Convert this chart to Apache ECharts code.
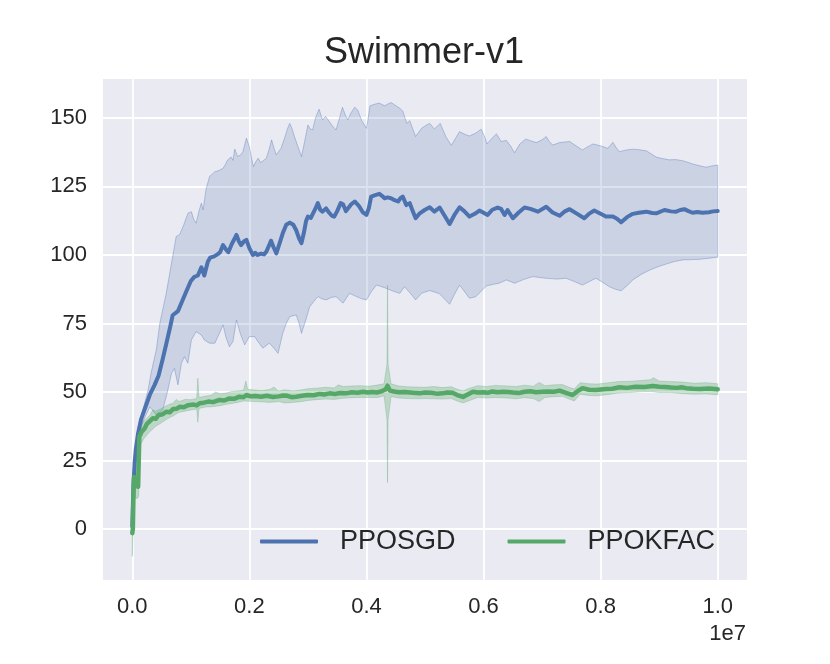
<!DOCTYPE html>
<html>
<head>
<meta charset="utf-8">
<title>Swimmer-v1</title>
<script src="https://cdn.jsdelivr.net/npm/echarts@6/dist/echarts.min.js"></script>
<style>
    html, body {margin: 0; padding: 0; background: #fff;}
    #chart {width: 830px; height: 664px;}
</style>
</head>
<body>
<div id="chart"></div>
<script>
// timesteps in millions, returns
const xTicks = [0, 2, 4, 6, 8, 10];
const yTicks = [0, 25, 50, 75, 100, 125, 150];

const ppoSgdMean = [[0,1],[0.02,16],[0.04,24],[0.06,29],[0.1,35],[0.15,40],[0.2,43],[0.3,49],[0.38,52.5],[0.45,56],[0.52,62],[0.58,67.5],[0.65,74],[0.69,78],[0.78,79.5],[0.85,83],[0.92,86.6],[1.0,90.5],[1.06,92],[1.12,92.5],[1.18,95.5],[1.23,92.5],[1.29,97.5],[1.33,99],[1.4,99.5],[1.46,100.3],[1.5,101],[1.55,103.6],[1.6,102],[1.64,101],[1.7,104],[1.78,107.3],[1.82,105],[1.86,103.6],[1.91,105],[1.95,105.5],[2.0,102.5],[2.06,100],[2.1,100.8],[2.14,100],[2.2,100.5],[2.25,100.2],[2.29,101.2],[2.37,105.2],[2.41,103],[2.46,100.6],[2.52,104.5],[2.57,107.9],[2.63,111],[2.69,111.8],[2.75,111],[2.8,109],[2.85,106],[2.89,104.3],[2.93,108],[2.97,112.5],[3.0,114],[3.05,113.5],[3.08,114],[3.13,117],[3.17,118.9],[3.21,116.5],[3.25,115.8],[3.31,117],[3.36,115.5],[3.41,114.3],[3.45,114],[3.5,116],[3.56,118.9],[3.6,118.5],[3.65,116],[3.68,116.4],[3.74,118.5],[3.8,119.5],[3.85,118.4],[3.88,117.6],[3.94,115.5],[4.0,114.6],[4.04,117],[4.08,121.3],[4.15,121.8],[4.22,122.3],[4.27,121.5],[4.31,120.7],[4.36,121],[4.42,120.7],[4.48,120],[4.54,119.5],[4.58,120.7],[4.62,121.3],[4.68,118.2],[4.74,118.9],[4.79,116],[4.84,113.4],[4.91,115.2],[5.0,116.5],[5.08,117.4],[5.16,115.8],[5.25,117.3],[5.33,114.5],[5.42,111.3],[5.5,114.5],[5.59,117.4],[5.67,116],[5.76,114],[5.85,115],[5.93,116.2],[6.0,115.4],[6.07,114.6],[6.15,116.5],[6.24,117.3],[6.3,116.8],[6.36,114.6],[6.41,116.4],[6.5,113.4],[6.6,115.5],[6.7,117.3],[6.8,116.8],[6.93,115.8],[7.07,117.6],[7.18,115.5],[7.3,114.3],[7.38,115.8],[7.47,116.7],[7.6,115],[7.72,113.4],[7.8,115],[7.89,116.2],[8.0,115],[8.09,114],[8.21,114],[8.28,113.2],[8.35,111.9],[8.45,113.8],[8.55,115],[8.65,115.4],[8.78,115.8],[8.88,115.3],[8.95,115.2],[9.09,116.4],[9.2,115.9],[9.29,115.8],[9.36,116.4],[9.43,116.7],[9.5,116],[9.57,115.4],[9.65,115.7],[9.74,115.4],[9.85,115.6],[9.92,115.9],[10.0,116]];

const ppoSgdUpper = [[0,2],[0.05,28],[0.1,37],[0.2,45],[0.27,50.7],[0.32,56.8],[0.41,65.3],[0.47,75],[0.58,86],[0.69,99.4],[0.75,106.7],[0.81,107.5],[0.88,111],[0.95,115.2],[1.01,115.8],[1.05,113],[1.09,111.6],[1.14,116],[1.18,118.9],[1.21,116.4],[1.26,124],[1.32,128.6],[1.41,130.4],[1.48,130.8],[1.55,131.6],[1.59,133],[1.63,134.7],[1.69,135.7],[1.72,134.5],[1.75,138.6],[1.8,135.9],[1.85,136.5],[1.89,137.7],[1.95,142.6],[2.0,139.5],[2.04,135],[2.07,132.2],[2.11,134],[2.15,135.3],[2.19,133.8],[2.22,134.1],[2.29,135.3],[2.33,138],[2.38,142],[2.42,139],[2.46,136.5],[2.54,138.9],[2.6,142.5],[2.65,146],[2.69,148],[2.73,146],[2.77,143.2],[2.83,139.5],[2.89,135.9],[2.94,141],[3.0,147.4],[3.04,146],[3.08,145.6],[3.13,150],[3.19,153.2],[3.25,149.3],[3.3,150.5],[3.34,149.5],[3.41,147.3],[3.48,145.6],[3.54,150],[3.59,153.9],[3.64,151],[3.68,149.3],[3.74,152],[3.8,153.9],[3.85,152.9],[3.92,149],[4.0,146.2],[4.03,150],[4.06,154.4],[4.14,155],[4.22,155.4],[4.31,154.4],[4.36,155],[4.42,155.6],[4.5,154.5],[4.57,153.5],[4.62,152.5],[4.69,148],[4.74,149],[4.79,146],[4.84,143.2],[4.94,146.2],[5.01,147.2],[5.08,148],[5.16,146],[5.26,148],[5.36,143],[5.45,140],[5.52,142.5],[5.59,145],[5.68,144],[5.76,143.4],[5.87,144.5],[5.96,145.9],[6.02,143],[6.06,140.5],[6.14,142.5],[6.22,144.2],[6.3,141.4],[6.39,141.8],[6.46,139.8],[6.53,137.3],[6.62,140.5],[6.72,142.3],[6.8,141.7],[6.9,141],[7.0,142],[7.07,143.2],[7.12,141.5],[7.18,140.1],[7.3,141],[7.47,141.4],[7.58,139.8],[7.69,138.3],[7.78,139.5],[7.87,140.5],[8.0,139.8],[8.12,138.9],[8.21,141.1],[8.27,139],[8.32,137.7],[8.44,138.3],[8.55,138.6],[8.66,138.4],[8.78,138],[8.87,136.8],[8.95,135.7],[9.05,135.2],[9.17,134.7],[9.28,134.8],[9.4,134.4],[9.49,133.8],[9.57,133.2],[9.68,132.6],[9.8,132],[9.9,132.5],[10.0,132.8]];

const ppoSgdLower = [[0,0],[0.1,34],[0.2,40],[0.3,44.6],[0.41,41.6],[0.52,43.4],[0.6,50],[0.67,56.8],[0.72,58.6],[0.78,52.6],[0.84,60.5],[0.89,62.9],[0.95,60.5],[1.01,69],[1.09,72],[1.18,70.8],[1.23,69],[1.32,67.8],[1.41,67.8],[1.48,71],[1.55,74.5],[1.6,70],[1.66,66.5],[1.72,68.4],[1.78,76.3],[1.85,71],[1.92,67.2],[2.0,70.2],[2.09,70.2],[2.16,68],[2.23,66],[2.34,67.8],[2.42,66],[2.49,64.1],[2.57,71.4],[2.63,75],[2.69,77.5],[2.8,78.1],[2.85,75],[2.89,71.4],[2.96,76],[3.03,81.1],[3.1,83],[3.17,84.8],[3.24,84],[3.31,83.6],[3.4,84.5],[3.48,84.8],[3.6,82.4],[3.71,86],[3.83,84.8],[3.92,84],[4.0,83.6],[4.08,86.5],[4.17,89],[4.25,88.5],[4.34,87.8],[4.48,86.6],[4.57,86],[4.65,88.4],[4.75,86],[4.84,83.6],[4.94,86],[5.08,87],[5.16,86.5],[5.25,85.8],[5.33,84],[5.42,82],[5.5,85.5],[5.59,89],[5.68,86.5],[5.76,84.2],[5.87,84.8],[5.96,86.8],[6.05,88.7],[6.17,89.3],[6.27,89.7],[6.39,90.9],[6.53,89.7],[6.68,91],[6.84,92.1],[6.95,91.8],[7.07,91.5],[7.25,91.2],[7.41,91.5],[7.55,90.3],[7.69,89],[7.8,90.2],[7.92,91.5],[8.05,89.8],[8.15,88.4],[8.25,87.5],[8.35,86.9],[8.45,88.8],[8.55,90.9],[8.7,93],[8.84,94.5],[8.98,95.7],[9.12,96.7],[9.26,97.6],[9.4,98.2],[9.55,98.3],[9.69,98.4],[9.85,98.8],[10.0,99.2]];

const ppoKfacMean = [[0,-1.5],[0.01,0],[0.02,11.8],[0.03,19],[0.04,16],[0.06,18],[0.08,17],[0.1,15.4],[0.12,33.7],[0.16,35.5],[0.21,36.7],[0.25,38.4],[0.28,38.1],[0.35,40.4],[0.4,40.2],[0.45,41.6],[0.52,41.9],[0.58,42.8],[0.64,42.6],[0.7,43.8],[0.76,43.9],[0.81,44.6],[0.88,44.4],[0.95,45.2],[1.05,45.4],[1.1,45.1],[1.15,45.9],[1.22,46.1],[1.3,46.5],[1.38,46.3],[1.49,47.1],[1.57,46.9],[1.65,47.6],[1.74,47.5],[1.83,48.3],[1.9,48.1],[1.95,48.9],[2.02,48.4],[2.1,48.5],[2.2,48.3],[2.3,48.6],[2.4,48.2],[2.5,48.4],[2.58,48.7],[2.65,48.6],[2.72,48.1],[2.8,48.3],[2.9,48.6],[3.0,48.9],[3.1,48.8],[3.2,49.3],[3.28,49.1],[3.37,49.5],[3.46,49.3],[3.55,49.6],[3.65,49.5],[3.75,49.9],[3.85,49.7],[3.94,50.1],[4.02,49.8],[4.1,50.0],[4.18,49.8],[4.25,50.2],[4.33,51],[4.36,52.3],[4.4,50.5],[4.47,50.2],[4.55,49.9],[4.65,50.0],[4.79,49.7],[4.91,49.5],[5.0,49.8],[5.1,49.7],[5.2,49.4],[5.3,49.5],[5.38,49.8],[5.47,49.7],[5.56,48.8],[5.65,48.2],[5.72,49],[5.82,50.1],[5.9,49.8],[6.0,49.9],[6.07,49.7],[6.15,50.2],[6.24,49.9],[6.33,50.1],[6.42,50],[6.5,49.8],[6.6,49.6],[6.7,50.1],[6.8,50.3],[6.9,49.9],[7.0,50.1],[7.1,50.2],[7.2,50.1],[7.3,50.5],[7.42,49.6],[7.52,48.9],[7.6,50.2],[7.69,51.4],[7.8,50.8],[7.92,50.7],[8.0,50.9],[8.1,51.1],[8.2,51.2],[8.32,51.7],[8.45,51.5],[8.6,51.9],[8.75,51.8],[8.89,52.2],[9.0,51.9],[9.1,51.8],[9.2,51.6],[9.3,51.5],[9.38,51.7],[9.46,51.4],[9.58,51.2],[9.7,51.1],[9.85,51.3],[10.0,51]];

const ppoKfacUpper = [[0,0],[0.01,2],[0.02,16],[0.03,23],[0.05,21],[0.08,20],[0.11,24],[0.12,37],[0.2,39.5],[0.3,41.5],[0.35,43.5],[0.4,43],[0.5,44],[0.6,45.2],[0.7,46],[0.75,47.3],[0.8,46.5],[0.9,47.3],[1.0,47.2],[1.1,47.6],[1.12,55],[1.14,48],[1.25,48.5],[1.35,48.8],[1.42,50],[1.5,49.4],[1.6,49.6],[1.7,50.2],[1.8,50.4],[1.9,50.6],[1.94,54],[1.97,51],[2.05,50.8],[2.2,50.5],[2.35,50.9],[2.42,51.8],[2.5,50.3],[2.6,50.8],[2.75,50.4],[2.9,50.8],[3.0,51.2],[3.15,51.4],[3.3,51.7],[3.45,51.5],[3.52,52.6],[3.6,52],[3.75,52.2],[3.9,52.3],[4.05,52.1],[4.2,52.6],[4.3,53],[4.35,60],[4.36,89],[4.37,60],[4.42,53],[4.55,52.2],[4.7,51.9],[4.85,51.8],[5.0,51.7],[5.15,52],[5.3,51.6],[5.45,51.9],[5.55,51],[5.65,50.4],[5.75,51.3],[5.9,52.3],[6.05,52],[6.2,52.4],[6.4,52.2],[6.55,52],[6.7,52.5],[6.85,52.1],[6.95,53.5],[7.05,52.3],[7.2,52.6],[7.35,52.7],[7.45,51.8],[7.55,51.1],[7.65,53.4],[7.8,53],[7.95,52.9],[8.1,53.3],[8.3,53.8],[8.5,53.9],[8.7,54.2],[8.85,54.5],[8.9,55.2],[9.0,54],[9.2,53.8],[9.4,53.6],[9.6,53.2],[9.8,53.4],[10.0,53]];

const ppoKfacLower = [[0,-10],[0.01,-3],[0.02,8],[0.05,12],[0.08,11],[0.11,12],[0.12,30],[0.2,33],[0.3,35.5],[0.4,37.5],[0.5,38.8],[0.6,40.2],[0.7,41.3],[0.8,42.6],[0.9,43],[1.0,43.4],[1.1,43.8],[1.12,39],[1.14,44],[1.25,44.5],[1.35,44.6],[1.5,45],[1.6,45.5],[1.7,45.8],[1.8,46.2],[1.9,46.7],[2.0,46.6],[2.2,46.4],[2.35,46.2],[2.5,46.5],[2.6,46],[2.75,46.2],[2.9,46.5],[3.0,46.9],[3.15,47.2],[3.3,47.4],[3.45,47.3],[3.6,47.7],[3.75,47.9],[3.9,48],[4.05,48],[4.2,48],[4.3,48.6],[4.35,40],[4.36,17],[4.37,40],[4.42,48.3],[4.55,47.8],[4.7,47.6],[4.85,47.5],[5.0,47.6],[5.15,47.5],[5.3,47.4],[5.45,47.6],[5.55,46.7],[5.65,46],[5.75,46.8],[5.9,48],[6.05,47.8],[6.2,48],[6.4,47.8],[6.55,47.5],[6.7,47.9],[6.85,47.6],[6.95,46.5],[7.05,48],[7.2,48.3],[7.35,48.4],[7.45,47.5],[7.55,46.7],[7.65,49.2],[7.8,48.7],[7.95,48.6],[8.1,49],[8.3,49.6],[8.5,49.8],[8.7,50.1],[8.85,50.2],[9.0,49.8],[9.2,49.8],[9.4,49.4],[9.6,49.2],[9.8,49.3],[10.0,49]];

const BLUE = '#4c72b0';
const GREEN = '#55a868';
const FONT = '"Liberation Sans", Arial, sans-serif';
const INK = '#262626';

// filled band between upper and lower curves, drawn through the axes
function band(name, upper, lower, fill, stroke) {
    return {
        type: 'custom',
        name: name,
        silent: true,
        data: [[5, 50]],
        renderItem: function (params, api) {
            let pts = upper.map(function (p) { return api.coord(p); });
            let bottom = lower.slice().reverse().map(function (p) { return api.coord(p); });
            return {
                type: 'polygon',
                shape: {points: pts.concat(bottom)},
                style: {fill: fill, stroke: stroke, lineWidth: 0.8}
            };
        }
    };
}

function meanLine(name, data, color, width) {
    return {
        type: 'line',
        name: name,
        data: data,
        showSymbol: false,
        symbol: 'none',
        silent: true,
        color: color,
        itemStyle: {color: color},
        lineStyle: {color: color, width: width, cap: 'round', join: 'round'}
    };
}

let chart = echarts.init(document.getElementById('chart'));

let option = {
    animation: false,
    backgroundColor: '#ffffff',
    textStyle: {fontFamily: FONT},
    grid: {
        left: 103,
        right: 83,
        top: 79,
        bottom: 84,
        show: true,
        backgroundColor: '#eaeaf2',
        borderWidth: 0
    },
    legend: {
        data: ['PPOSGD', 'PPOKFAC'],
        left: 260,
        top: 528,
        padding: 0,
        icon: 'roundRect',
        itemWidth: 58,
        itemHeight: 4,
        itemGap: 52,
        selectedMode: false,
        textStyle: {fontFamily: FONT, fontSize: 27, color: INK, padding: [0, 0, 0, 17]}
    },
    xAxis: {
        type: 'value',
        min: -0.5,
        max: 10.5,
        axisLine: {show: false},
        axisTick: {show: false, customValues: xTicks},
        axisLabel: {
            customValues: xTicks,
            margin: 16,
            fontSize: 22,
            color: INK,
            fontFamily: FONT,
            formatter: function (v) { return (v / 10).toFixed(1); }
        },
        splitLine: {show: true, lineStyle: {color: '#ffffff', width: 1.8}}
    },
    yAxis: {
        type: 'value',
        min: -18.6,
        max: 164.2,
        axisLine: {show: false},
        axisTick: {show: false, customValues: yTicks},
        axisLabel: {
            customValues: yTicks,
            margin: 16,
            fontSize: 22,
            color: INK,
            fontFamily: FONT
        },
        splitLine: {show: true, lineStyle: {color: '#ffffff', width: 1.8}}
    },
    graphic: [
        {
            type: 'text',
            x: 424,
            y: 53,
            style: {
                text: 'Swimmer-v1',
                font: '36px ' + FONT,
                fill: INK,
                textAlign: 'center',
                textVerticalAlign: 'middle'
            }
        },
        {
            type: 'text',
            x: 746,
            y: 634,
            style: {
                text: '1e7',
                font: '22px ' + FONT,
                fill: INK,
                textAlign: 'right',
                textVerticalAlign: 'middle'
            }
        }
    ],
    series: [
        band('PPOSGD band', ppoSgdUpper, ppoSgdLower, 'rgba(76,114,176,0.2)', 'rgba(76,114,176,0.45)'),
        meanLine('PPOSGD', ppoSgdMean, BLUE, 4),
        band('PPOKFAC band', ppoKfacUpper, ppoKfacLower, 'rgba(85,168,104,0.3)', 'rgba(85,168,104,0.35)'),
        meanLine('PPOKFAC', ppoKfacMean, GREEN, 4.5)
    ]
};

chart.setOption(option);
</script>
</body>
</html>
